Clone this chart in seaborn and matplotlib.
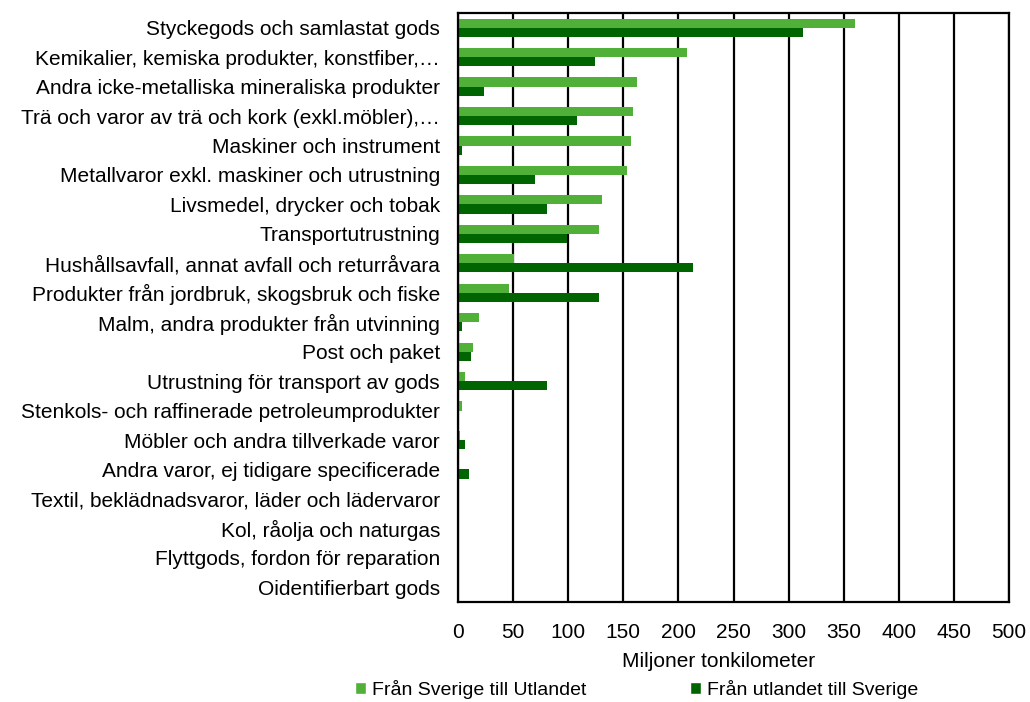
import pandas as pd
import seaborn as sns
import matplotlib.pyplot as plt
from matplotlib.patches import Patch

# data
categories = [
    'Styckegods och samlastat gods',
    'Kemikalier, kemiska produkter, konstfiber,…',
    'Andra icke-metalliska mineraliska produkter',
    'Trä och varor av trä och kork (exkl.möbler),…',
    'Maskiner och instrument',
    'Metallvaror exkl. maskiner och utrustning',
    'Livsmedel, drycker och tobak',
    'Transportutrustning',
    'Hushållsavfall, annat avfall och returråvara',
    'Produkter från jordbruk, skogsbruk och fiske',
    'Malm, andra produkter från utvinning',
    'Post och paket',
    'Utrustning för transport av gods',
    'Stenkols- och raffinerade petroleumprodukter',
    'Möbler och andra tillverkade varor',
    'Andra varor, ej tidigare specificerade',
    'Textil, beklädnadsvaror, läder och lädervaror',
    'Kol, råolja och naturgas',
    'Flyttgods, fordon för reparation',
    'Oidentifierbart gods',
]
series_names = ['Från Sverige till Utlandet', 'Från utlandet till Sverige']
export_values = [360, 208, 162, 159, 157, 153, 131, 128, 51, 46,
                 19, 14, 6, 4, 2, 0.5, 0, 0, 0, 0]
import_values = [313, 124, 24, 108, 4, 70, 81, 99, 213, 128,
                 4, 12, 81, 0, 6, 10, 0, 0, 0, 0]
colors = ['#50B038', '#006400']


def build_frame():
    rows = []
    for name, values in zip(series_names, [export_values, import_values]):
        for cat, v in zip(categories, values):
            rows.append({'kategori': cat, 'serie': name, 'varde': v})
    return pd.DataFrame(rows)


def main():
    data = build_frame()
    sns.set_theme(style='white')
    plt.rcParams['font.family'] = ['Liberation Sans', 'DejaVu Sans']
    plt.rcParams['text.color'] = 'black'
    plt.rcParams['axes.labelcolor'] = 'black'

    fig = plt.figure(figsize=(10.3, 7.02), dpi=100)
    ax = fig.add_axes([458 / 1030, 1 - 602 / 702, 551 / 1030, 589 / 702])
    sns.barplot(data=data, y='kategori', x='varde', hue='serie',
                order=categories, hue_order=series_names,
                palette=colors, width=0.62, orient='h', ax=ax,
                legend=False, saturation=1, linewidth=0)

    ax.set_xlim(0, 500)
    ax.set_xticks(range(0, 501, 50))
    ax.xaxis.grid(True, color='black', linewidth=1.6)
    ax.set_axisbelow(True)
    for spine in ax.spines.values():
        spine.set_color('black')
        spine.set_linewidth(1.6)
    ax.tick_params(axis='both', length=0, labelsize=15, colors='black')
    ax.tick_params(axis='x', pad=15)
    ax.tick_params(axis='y', pad=13)
    ax.set_ylabel('')
    ax.set_xlabel('Miljoner tonkilometer', fontsize=15)
    ax.xaxis.set_label_coords(0.473, -0.085)

    handles = [Patch(facecolor=c, label=n) for c, n in zip(colors, series_names)]
    fig.legend(handles=handles, loc='center', bbox_to_anchor=(0.618, 0.018),
               ncol=2, frameon=False, fontsize=14, handlelength=0.6,
               handleheight=0.6, handletextpad=0.3, columnspacing=5.3,
               labelcolor='black')

    fig.savefig('out.png', dpi=100)


if __name__ == '__main__':
    main()
